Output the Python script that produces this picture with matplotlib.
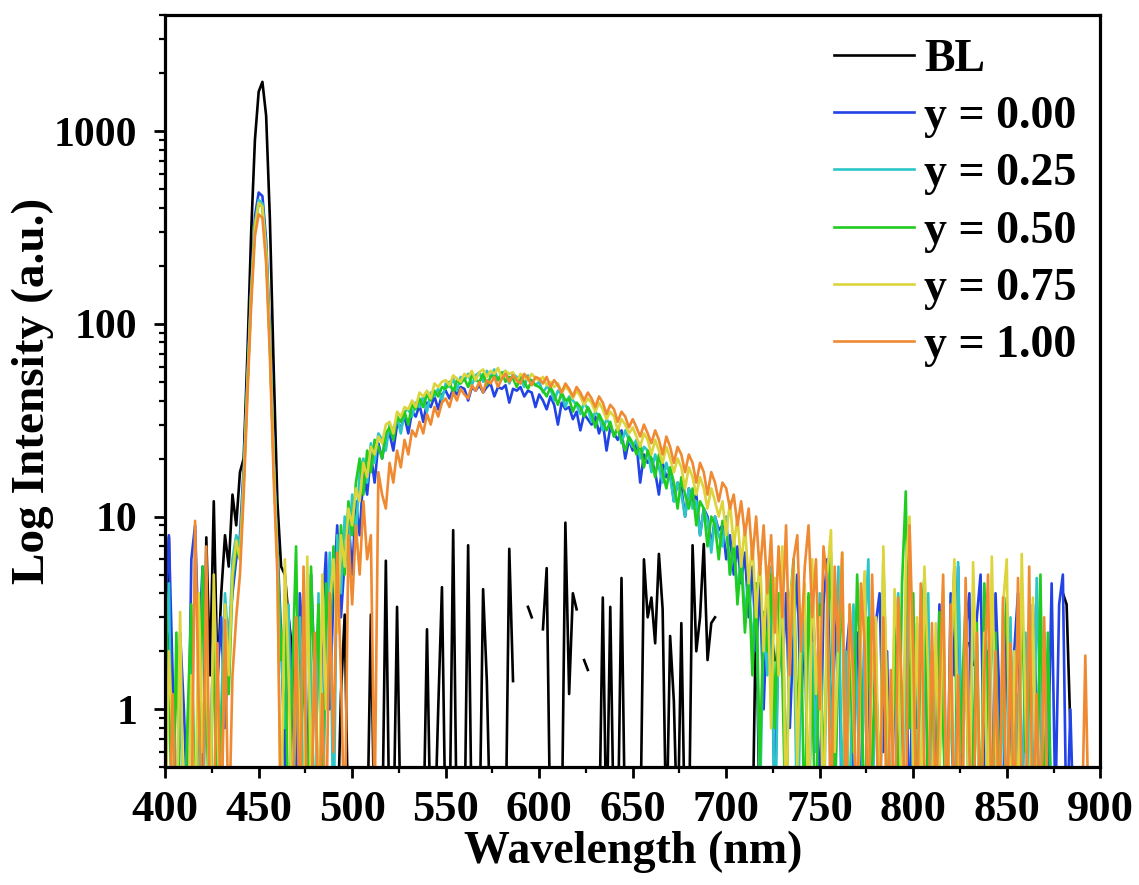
import numpy as np
import matplotlib
matplotlib.use("Agg")
import matplotlib.pyplot as plt
from matplotlib.ticker import MultipleLocator, LogLocator, NullFormatter, FixedLocator

nan = np.nan

# wavelength grid (nm), one point every 2 nm
wavelength = np.arange(400, 900, 2)

# emission intensities (0.2 = below the axis floor, nan = no data)
bl = [0.2, 7.8, 0.2, 0.2, 0.2, 0.2, 0.2, 0.2, 0.2, 0.2, 0.2, 7.8, 1.5, 12, 1.4, 4, 8, 5.5, 13, 9, 17, 20, 70, 300, 900,
      1600, 1800, 1200, 350, 60, 12, 5.5, 5, 3, 2, 0.2, 0.2, 0.2, 0.2, 0.2, 0.2, 0.2, 0.2, 0.2, 0.2, 0.2, 0.2, 1.2, 3.1, 0.2,
      nan, nan, 1.2, nan, 0.2, 3.1, 0.2, 0.2, 0.2, 5.9, 0.2, 0.2, 3.4, 0.2, 0.2, 0.2, 0.2, 0.2, 0.2, 0.2, 2.6, 0.2, 0.2, 1.0, 4.3,
      0.2, 0.2, 8.5, 0.2, 0.2, 0.2, 7.1, 0.2, 0.2, 0.2, 4.2, 1.4, 0.2, 0.2, 0.2, 0.2, 0.2, 6.8, 1.4, nan, nan, nan, 3.4, 3.0, nan,
      nan, 2.6, 5.4, 0.2, 0.2, 0.2, 0.2, 9.3, 1.2, 4.0, 3.3, nan, 1.8, 1.6, nan, nan, 0.2, 3.8, 0.2, 3.4, 0.2, 0.2, 4.8, 0.2, 0.2,
      0.2, 0.2, 0.2, 6, 3, 3.8, 2.2, 6.4, 3.3, 0.2, 2.4, 1.1, 0.2, 2.8, 0.2, 0.2, 7.1, 2, 3, 7.2, 1.8, 2.8, 3, nan, nan,
      nan, nan, nan, nan, nan, 0.2, 0.2, 0.2, 3.8, 0.2, 0.2, nan, 2.5, 1.8, nan, nan, nan, 2.4, 2.3, nan, nan, nan, 3.8, 2.4, nan,
      nan, nan, nan, nan, nan, nan, nan, nan, nan, nan, nan, nan, nan, nan, nan, 1.5, 0.4, nan, nan, nan, nan, nan, nan, nan, nan,
      nan, nan, nan, nan, nan, nan, nan, nan, nan, nan, 1.2, 0.3, nan, nan, nan, 2.2, 1.7, nan, nan, nan, nan, nan, 0.8, 0.3, nan,
      nan, nan, nan, nan, nan, 2.1, 1.8, nan, nan, nan, nan, nan, nan, nan, nan, 4, 3.5, 0.8, nan, nan, nan, nan, nan, nan, nan]

y000 = [3, 8, 1.5, 0.2, 2.5, 1, 0.3, 6, 9, 2, 5.5, 1.2, 0.3, 4, 1.5, 3, 0.8, 2.5, 4, 6, 8, 18, 55, 160, 360,
        480, 460, 270, 90, 22, 7, 2.5, 0.5, 3, 1.2, 0.3, 4, 2, 0.4, 5, 1.5, 0.2, 3, 6.5, 1, 4, 9, 3, 6, 10,
        5, 12, 8, 17, 13, 21, 15, 24, 20, 26, 27, 22, 30, 29, 33, 27, 35, 33, 38, 31, 39, 37, 42, 36, 43,
        45, 41, 46, 43, 47, 46, 40, 47, 45, 48, 44, 47, 49, 42, 47, 46, 48, 39, 46, 45, 47, 42, 45, 44, 37,
        43, 40, 36, 42, 38, 30, 39, 36, 37, 32, 35, 28, 34, 32, 30, 33, 27, 31, 22, 29, 27, 25, 28, 20, 25,
        22, 24, 15, 21, 19, 20, 17, 13, 19, 16, 17, 12, 15, 14, 10, 14, 12, 13, 8, 11, 10, 7, 10, 8.5, 9,
        6, 8, 5, 7, 4.5, 6.5, 3, 5.5, 2, 4.5, 1, 3.5, 2.5, 0.3, 3, 1.5, 4, 0.8, 2.5, 5, 1, 3, 0.2, 4, 1.5,
        0.3, 3.5, 6, 0.8, 2, 4, 0.2, 1.8, 3, 0.5, 2.5, 0.2, 3, 1.2, 0.3, 2.8, 4, 0.6, 2, 0.2, 1.5, 3.2, 0.4, 2.5, 0.2,
        3, 0.8, 2.2, 4.5, 0.3, 2, 0.5, 3.5, 1, 0.2, 4, 1.5, 5.5, 0.3, 2.5, 4, 0.2, 3, 5, 0.4, 2, 0.2, 4, 1.2, 0.2,
        3.2, 0.5, 2, 4, 0.3, 1.5, 0.2, 3.5, 1, 0.2, 2.5, 0.5, 4.5, 0.3, 3.5, 5, 0.2, 1, 0.2, nan, nan, nan, nan, nan, nan]

y025 = [1.5, 4.5, 0.2, 0.2, 1.2, 0.2, 0.2, 3, 0.2, 1.1, 0.2, 1.8, 0.5, 2.8, 0.2, 1, 4, 2, 6, 8, 7, 16, 50, 145, 330,
        440, 420, 245, 80, 20, 6, 2, 0.8, 3.5, 0.2, 1.2, 3, 0.2, 5, 1.5, 0.2, 4, 0.2, 2, 6.5, 0.2, 8, 4, 10, 6,
        13, 8, 17, 20, 15, 24, 19, 27, 25, 22, 30, 28, 33, 27, 35, 36, 33, 39, 37, 42, 35, 44, 42, 46, 40,
        49, 47, 52, 45, 53, 51, 55, 48, 54, 56, 50, 57, 53, 58, 51, 55, 57, 49, 55, 53, 52, 47, 54, 50, 48,
        50, 44, 47, 46, 40, 45, 43, 37, 42, 40, 38, 34, 39, 36, 31, 35, 33, 28, 32, 30, 26, 29, 24, 28, 25,
        23, 25, 20, 23, 22, 17, 21, 18, 15, 19, 16, 12, 15, 13, 10, 14, 11, 12, 8, 11, 9.5, 6.5, 10, 8, 7,
        10, 5, 7, 4, 6.5, 3, 5, 2, 4.5, 0.3, 3, 1.5, 5.5, 0.2, 2.5, 4, 0.4, 2, 3.5, 0.2, 1.5, 3, 0.2, 2.2, 0.6,
        4, 0.2, 2.8, 1, 0.2, 5.5, 0.3, 2, 0.2, 3.5, 1.2, 0.2, 2.5, 6, 0.3, 1.5, 0.2, 3, 0.8, 0.2, 2.2, 4, 0.2, 1.5, 8,
        0.3, 2.8, 0.2, 1.5, 4, 0.2, 2, 0.5, 3.2, 0.2, 1.8, 0.2, 5.8, 0.6, 2.5, 0.2, 3.5, 1, 0.2, 2.2, 0.2, 4, 0.8, 0.2, 1.6,
        0.2, 3, 0.2, 1.2, 0.2, 2.5, 0.5, 0.2, 4.8, 1, 0.2, 2, 0.2, 0.2, 0.2, nan, nan, nan, nan, nan, nan, nan, nan, nan, nan]

y050 = [4, 1.3, 0.2, 2.5, 0.2, 0.2, 0.9, 3.5, 0.2, 0.2, 5.5, 1, 0.2, 3, 0.2, 0.7, 2.5, 1.2, 4.5, 7, 6, 15, 48, 140, 320,
        420, 405, 235, 78, 19, 6, 1.8, 3, 0.2, 1.5, 7, 0.5, 2, 0.2, 5.5, 1.2, 3.5, 0.2, 4.5, 2, 7, 3, 9, 5, 12,
        8, 15, 20, 13, 22, 17, 25, 23, 20, 27, 29, 25, 33, 31, 35, 30, 38, 36, 41, 37, 43, 40, 45, 42, 47,
        46, 50, 44, 51, 49, 52, 47, 54, 51, 50, 55, 48, 53, 54, 51, 56, 50, 53, 52, 47, 53, 50, 46, 51, 48,
        47, 45, 42, 47, 43, 38, 44, 40, 41, 35, 39, 37, 33, 37, 34, 29, 34, 31, 28, 31, 26, 29, 25, 22, 26,
        24, 21, 24, 18, 22, 20, 16, 21, 17, 14, 18, 15, 11, 16, 13, 11, 14, 9, 12, 11, 7, 10, 9, 6, 9.5,
        9, 5, 8, 3.5, 6, 2.5, 5, 1.5, 4.5, 0.5, 3.2, 2, 5, 0.8, 4, 1.5, 0.2, 3.5, 6, 0.8, 2.5, 0.2, 4, 1.2, 0.2,
        3.5, 0.4, 2.5, 6.5, 0.3, 1.8, 4, 0.2, 2.2, 0.6, 5, 1.5, 0.2, 3, 0.5, 2, 0.2, 6, 1, 0.2, 2.8, 0.3, 4.5, 13.5, 0.8,
        4, 0.2, 2.4, 5, 0.3, 1.5, 0.2, 3.2, 0.8, 0.2, 2, 5.5, 0.2, 1.2, 3.5, 0.2, 0.6, 2.8, 0.2, 4.5, 1, 0.2, 2.5, 0.3, 1.8,
        3.8, 0.2, 1.5, 0.2, 4.5, 0.6, 2, 0.2, 0.2, 5, 0.3, 2.5, 0.2, nan, nan, nan, nan, nan, nan, nan, nan, nan, nan, nan, nan]

y075 = [0.2, 2, 0.7, 0.2, 3.2, 0.2, 0.2, 1.5, 0.2, 4, 0.6, 2.2, 0.2, 5, 0.8, 0.2, 3.5, 1.5, 5, 7.5, 6, 15, 48, 140, 320,
        425, 405, 235, 78, 19, 6, 0.2, 6, 1.5, 0.2, 3, 0.8, 0.2, 6.2, 0.4, 2, 0.2, 5, 1, 3.5, 6, 2.5, 8, 5.5, 11,
        9, 14, 12, 19, 16, 23, 21, 26, 24, 30, 31, 27, 35, 33, 37, 36, 40, 37, 44, 42, 45, 41, 49, 47, 50,
        51, 48, 54, 52, 50, 55, 53, 57, 51, 56, 58, 53, 57, 55, 59, 52, 57, 55, 56, 50, 55, 53, 51, 55, 52,
        51, 53, 48, 50, 47, 49, 44, 47, 45, 41, 45, 42, 38, 41, 39, 35, 39, 36, 32, 35, 33, 28, 32, 30, 27,
        29, 26, 23, 27, 25, 21, 25, 22, 19, 23, 20, 17, 20, 18, 14, 18, 16, 13, 16, 14, 11, 14, 12, 10, 12,
        8, 12, 7, 10, 5.5, 9, 4.5, 7.5, 3, 6.5, 2, 5.5, 0.8, 4.8, 1.5, 7, 0.2, 3.5, 5.5, 0.5, 2.5, 4.5, 0.2, 6, 1.2,
        3, 0.2, 5, 8.5, 0.6, 2.2, 6.5, 0.2, 3.5, 1, 0.2, 2.5, 5.2, 0.3, 1.5, 3, 0.2, 7, 1.2, 0.2, 4.2, 2, 0.2, 5.5, 10,
        0.5, 3, 0.2, 5.5, 1.5, 0.2, 2.8, 0.4, 4.2, 0.2, 1.6, 6, 0.6, 0.2, 3, 0.2, 5.8, 1.2, 0.2, 2.5, 0.2, 6.2, 0.8, 0.2, 3.5,
        6, 0.2, 2, 0.2, 6.4, 1, 0.2, 3.8, 0.2, 0.2, 2.5, 0.2, 0.2, nan, nan, nan, nan, nan, nan, nan, nan, nan, nan, nan, nan]

y100 = [0.2, 0.2, 1.2, 0.2, 0.2, 0.2, 0.2, 0.2, 9.5, 1, 0.2, 7, 0.2, 0.3, 2.2, 0.2, 2.9, 0.2, 1.5, 3, 5, 13, 42, 125, 285,
        370, 355, 205, 68, 16, 5, 0.2, 0.2, 0.2, 0.2, 3, 0.2, 5.5, 0.2, 0.2, 2.5, 0.2, 1.2, 0.2, 4, 0.6, 6.5, 1.5, 0.2, 8,
        3.5, 9, 5, 12, 6, 8, 0.3, 17, 13, 11, 19, 15, 22, 18, 25, 21, 28, 26, 31, 27, 34, 30, 37, 33, 39,
        41, 37, 44, 40, 46, 43, 41, 48, 45, 50, 44, 51, 49, 53, 47, 52, 55, 50, 54, 51, 49, 55, 52, 48, 53,
        52, 49, 53, 47, 51, 48, 44, 49, 46, 42, 47, 44, 40, 44, 41, 37, 42, 39, 34, 38, 36, 31, 35, 33, 29,
        32, 29, 26, 30, 27, 24, 28, 25, 21, 26, 23, 19, 23, 21, 17, 21, 19, 15, 19, 17, 13, 17, 15, 12, 15,
        14, 11, 13, 9, 12, 8, 11, 6, 10, 5, 9, 4, 8, 2.5, 7, 3, 9, 1.5, 6, 8, 2, 5.5, 9, 3, 6,
        1, 7, 4.5, 0.2, 5.5, 2, 6.5, 0.3, 3.5, 1.5, 0.2, 4.5, 2.2, 0.2, 5, 1, 0.2, 3, 0.2, 1.6, 0.2, 3.8, 1.2, 0.2, 9,
        2, 0.2, 4.5, 0.5, 0.2, 2.8, 0.3, 1.2, 5, 0.2, 3.5, 0.2, 1.5, 0.2, 4.8, 0.6, 0.2, 2.5, 0.2, 1.5, 5, 0.2, 2, 0.2, 3.8,
        0.2, 2.2, 0.2, 4.8, 0.4, 0.2, 5.5, 0.2, 1.2, 0.2, 3, 0.2, 0.2, 0.2, 0.2, 0.2, 0.2, 0.2, 0.2, 0.2, 0.2, 1.9, 0.2, nan, nan]

labels = ["BL", "y = 0.00", "y = 0.25", "y = 0.50", "y = 0.75", "y = 1.00"]
colors = ["#000000", "#2243e6", "#2cc6c8", "#1fcc1f", "#dcd43a", "#ef8a32"]
series = [bl, y000, y025, y050, y075, y100]

plt.rcParams['font.family'] = ['Liberation Serif', 'DejaVu Serif']
plt.rcParams['font.weight'] = 'bold'

fig = plt.figure(figsize=(11.39, 8.85), dpi=100)
ax = fig.add_axes([0.145, 0.133, 0.821, 0.85])

for vals, c, lab in zip(series, colors, labels):
    ax.plot(wavelength, vals, color=c, lw=1.9, label=lab)

ax.set_yscale('log')
ax.set_xlim(400, 900)
ax.set_ylim(0.5, 4000)

ax.xaxis.set_major_locator(MultipleLocator(50))
ax.xaxis.set_minor_locator(MultipleLocator(25))
ax.yaxis.set_major_locator(FixedLocator([1, 10, 100, 1000]))
ax.yaxis.set_minor_locator(LogLocator(base=10, subs=np.arange(2, 10)))
ax.yaxis.set_minor_formatter(NullFormatter())
ax.set_yticklabels(["1", "10", "100", "1000"])

ax.tick_params(which='major', direction='out', length=8, width=2)
ax.tick_params(which='minor', direction='out', length=4.5, width=1.6)
ax.tick_params(axis='x', which='major', pad=8, labelsize=32)
ax.tick_params(axis='y', which='major', pad=12, labelsize=30)
for s in ax.spines.values():
    s.set_linewidth(2.3)

ax.set_xlabel("Wavelength (nm)", fontsize=33, fontweight='bold', labelpad=1)
ax.set_ylabel("Log Intensity (a.u.)", fontsize=34, fontweight='bold', labelpad=0)

ax.legend(loc='upper right', frameon=False, fontsize=33, handlelength=1.75,
          handletextpad=0.22, labelspacing=0.33, borderaxespad=0.12)

fig.savefig("out.png", dpi=100)
